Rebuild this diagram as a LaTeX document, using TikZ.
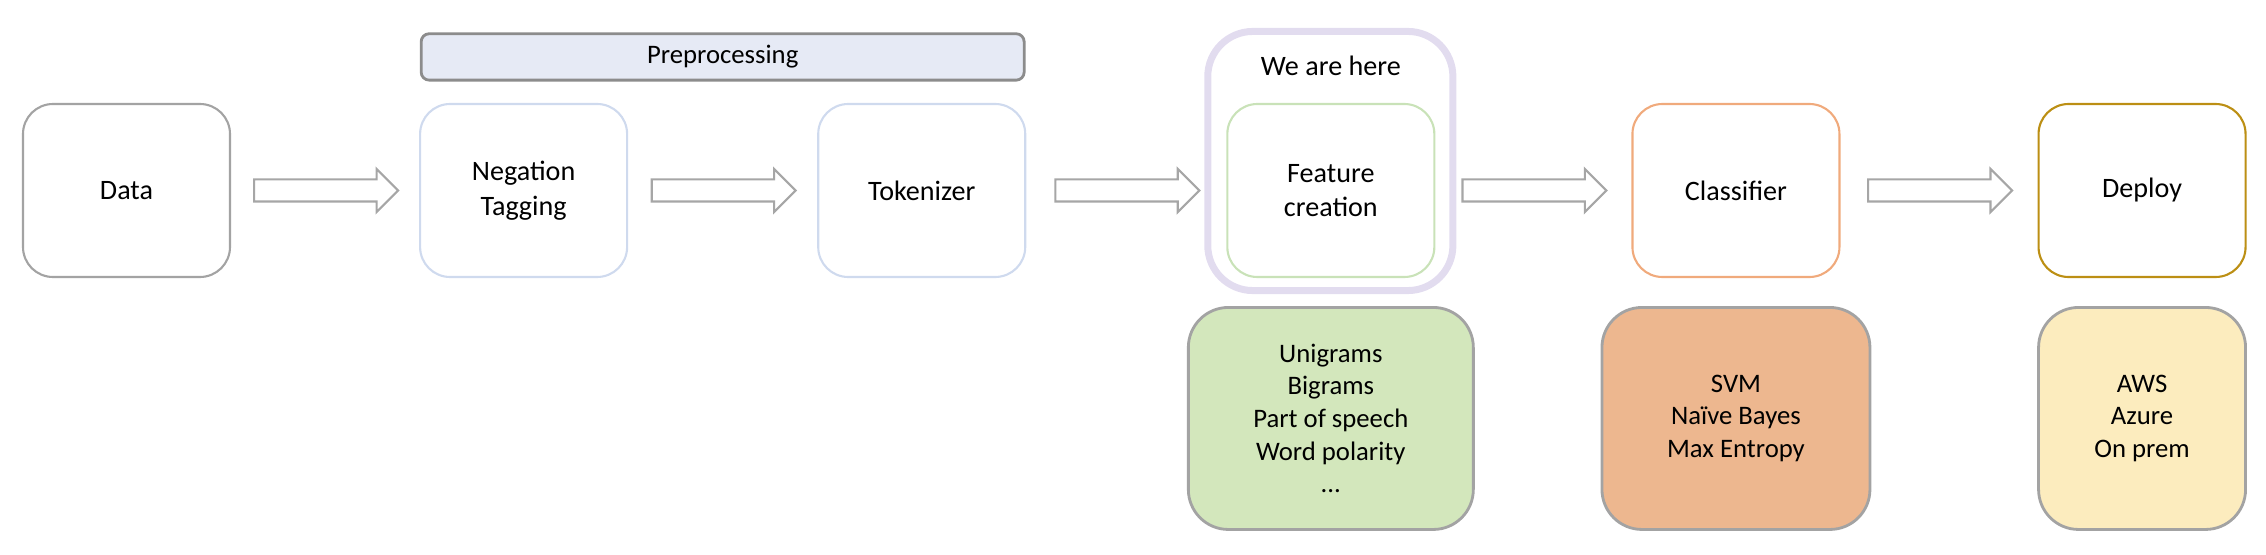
\documentclass[tikz,border=0pt]{standalone}
\usepackage{fontspec}
\setmainfont{Carlito}
\usepackage{tikz}
\usetikzlibrary{calc, positioning, shapes.arrows}
\definecolor{boxgray}{HTML}{A3A3A3}
\definecolor{prepblue}{HTML}{CFDAEE}
\definecolor{prepfill}{HTML}{E6EAF5}
\definecolor{prepborder}{HTML}{8C8C8C}
\definecolor{featgreen}{HTML}{C9E2B8}
\definecolor{herepurple}{HTML}{E2DCEF}
\definecolor{clforange}{HTML}{F0AA7C}
\definecolor{deploygold}{HTML}{BC8F14}
\definecolor{featfill}{HTML}{D3E7BC}
\definecolor{clffill}{HTML}{EDB78F}
\definecolor{depfill}{HTML}{FCECBE}
\definecolor{arrowgray}{HTML}{A6A6A6}
\tikzstyle{stage}=[rectangle, rounded corners=0.3cm, minimum width=2.07cm, minimum height=1.73cm, line width=0.6pt, align=center, font=\fontsize{8}{9.8}\selectfont]
\tikzstyle{detail}=[rectangle, rounded corners=0.4cm, minimum height=2.22cm, draw=boxgray, line width=0.8pt, align=center, font=\fontsize{7.6}{9.3}\selectfont]
\tikzstyle{prep}=[rectangle, rounded corners=0.08cm, minimum width=6.03cm, minimum height=0.43cm, draw=prepborder, fill=prepfill, line width=0.8pt, font=\fontsize{7.6}{9.3}\selectfont]
\tikzstyle{flow}=[single arrow, draw=arrowgray, fill=white, line width=0.6pt, minimum height=1.44cm, inner xsep=0pt, inner ysep=0.1cm, single arrow head extend=0.105cm, anchor=tail]

\begin{document}
\begin{tikzpicture}[node distance=1.9cm]
    \useasboundingbox (0,0) rectangle (22.66,5.54);

    \node[stage, draw=boxgray] (data) at (1.265,3.635) {Data};
    \node[stage, draw=prepblue] (neg) [right=1.88cm of data] {Negation\\Tagging};
    \node[stage, draw=prepblue] (tok) [right=1.89cm of neg] {Tokenizer};
    \node[stage, draw=featgreen] (feat) [right=2.00cm of tok] {Feature\\creation};
    \node[stage, draw=clforange] (clf) [right=1.96cm of feat] {Classifier};
    \node[stage, draw=deploygold] (dep) [right=1.97cm of clf] {Deploy};

    \node[prep] (prepbar) at ($(neg.north)!0.5!(tok.north)+(0,0.46)$) {Preprocessing};

    \draw[draw=herepurple, line width=0.07cm, rounded corners=0.45cm]
          ($(feat.south west)+(-0.185,-0.125)$) rectangle ($(feat.north east)+(0.175,0.715)$);
    \node[font=\fontsize{8}{9.8}\selectfont] (here) at ($(feat.north)+(0,0.37)$) {We are here};

    \node[detail, fill=featfill, minimum width=2.85cm] (feats) [below=0.28cm of feat]
          {Unigrams\\Bigrams\\Part of speech\\Word polarity\\...};
    \node[detail, fill=clffill, minimum width=2.68cm] (clfs) [below=0.28cm of clf]
          {SVM\\Naïve Bayes\\Max Entropy};
    \node[detail, fill=depfill, minimum width=2.07cm] (deps) [below=0.28cm of dep]
          {AWS\\Azure\\On prem};

    \node[flow] (a1) at ($(data.east)!0.5!(neg.west)+(-0.72,0)$) {};
    \node[flow] (a2) at ($(neg.east)!0.5!(tok.west)+(-0.72,0)$) {};
    \node[flow] (a3) at ($(tok.east)!0.5!(feat.west)+(-0.72,0)$) {};
    \node[flow] (a4) at ($(feat.east)!0.5!(clf.west)+(-0.72,0)$) {};
    \node[flow] (a5) at ($(clf.east)!0.5!(dep.west)+(-0.72,0)$) {};
\end{tikzpicture}
\end{document}
